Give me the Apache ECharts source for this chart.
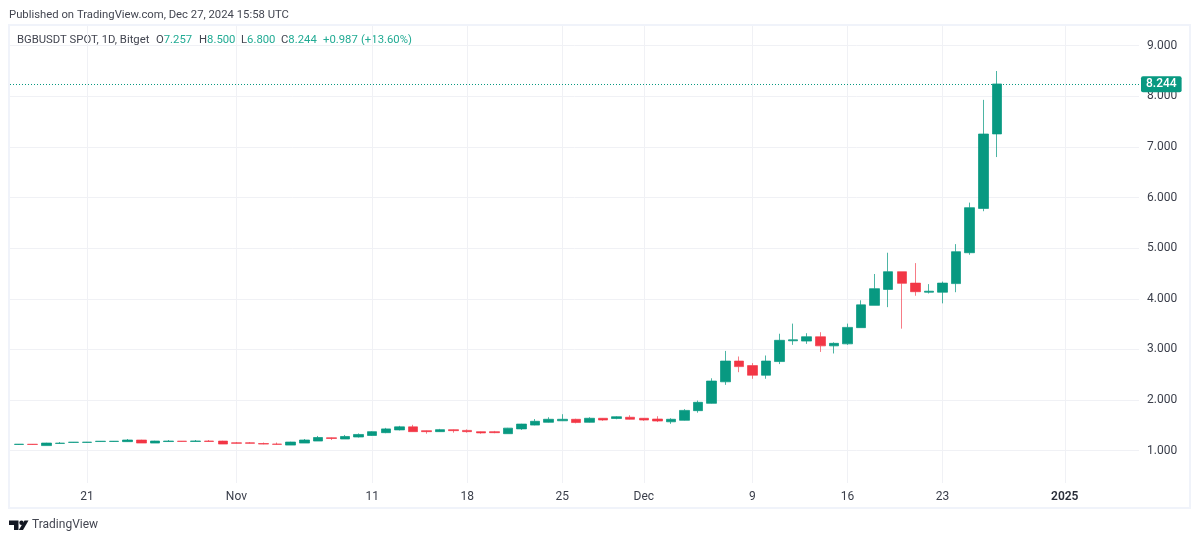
<!DOCTYPE html>
<html><head><meta charset="utf-8">
<style>html,body{margin:0;padding:0;background:#fff}#c{width:1200px;height:542px}</style>
<script src="https://cdn.jsdelivr.net/npm/echarts@6/dist/echarts.min.js"></script>
</head><body><div id="c"></div>
<script>
const dates=["2024-10-16","2024-10-17","2024-10-18","2024-10-19","2024-10-20","2024-10-21","2024-10-22","2024-10-23","2024-10-24","2024-10-25","2024-10-26","2024-10-27","2024-10-28","2024-10-29","2024-10-30","2024-10-31","2024-11-01","2024-11-02","2024-11-03","2024-11-04","2024-11-05","2024-11-06","2024-11-07","2024-11-08","2024-11-09","2024-11-10","2024-11-11","2024-11-12","2024-11-13","2024-11-14","2024-11-15","2024-11-16","2024-11-17","2024-11-18","2024-11-19","2024-11-20","2024-11-21","2024-11-22","2024-11-23","2024-11-24","2024-11-25","2024-11-26","2024-11-27","2024-11-28","2024-11-29","2024-11-30","2024-12-01","2024-12-02","2024-12-03","2024-12-04","2024-12-05","2024-12-06","2024-12-07","2024-12-08","2024-12-09","2024-12-10","2024-12-11","2024-12-12","2024-12-13","2024-12-14","2024-12-15","2024-12-16","2024-12-17","2024-12-18","2024-12-19","2024-12-20","2024-12-21","2024-12-22","2024-12-23","2024-12-24","2024-12-25","2024-12-26","2024-12-27"];
const opens=[1.122,1.127,1.10,1.143,1.163,1.163,1.18,1.181,1.178,1.21,1.15,1.18,1.188,1.183,1.19,1.19,1.155,1.155,1.14,1.13,1.11,1.15,1.19,1.255,1.23,1.27,1.30,1.355,1.41,1.47,1.395,1.375,1.415,1.40,1.375,1.375,1.335,1.43,1.505,1.56,1.59,1.62,1.56,1.64,1.635,1.66,1.64,1.625,1.57,1.60,1.79,1.935,2.36,2.77,2.68,2.49,2.76,3.17,3.165,3.25,3.07,3.11,3.43,3.87,4.185,4.535,4.31,4.13,4.13,4.30,4.91,5.785,7.257];
const closes=[1.128,1.122,1.15,1.148,1.167,1.168,1.187,1.187,1.21,1.15,1.19,1.19,1.182,1.19,1.183,1.13,1.145,1.145,1.13,1.125,1.17,1.21,1.26,1.24,1.28,1.32,1.375,1.43,1.47,1.375,1.375,1.415,1.395,1.375,1.35,1.355,1.445,1.525,1.58,1.62,1.62,1.555,1.64,1.605,1.67,1.62,1.605,1.585,1.62,1.795,1.955,2.375,2.77,2.66,2.49,2.77,3.18,3.19,3.25,3.07,3.12,3.435,3.88,4.20,4.535,4.305,4.14,4.15,4.31,4.93,5.80,7.255,8.244];
const lows=[1.118,1.118,1.10,1.14,1.16,1.16,1.178,1.178,1.175,1.15,1.15,1.178,1.18,1.18,1.18,1.13,1.14,1.14,1.125,1.12,1.11,1.15,1.19,1.21,1.23,1.26,1.29,1.345,1.40,1.375,1.335,1.37,1.355,1.355,1.335,1.345,1.335,1.41,1.50,1.555,1.585,1.54,1.555,1.59,1.62,1.615,1.59,1.565,1.53,1.595,1.75,1.93,2.30,2.55,2.42,2.42,2.71,3.09,3.11,2.95,2.92,3.09,3.43,3.87,3.835,3.41,4.06,4.105,3.91,4.13,4.87,5.73,6.80];
const highs=[1.13,1.13,1.155,1.17,1.17,1.172,1.19,1.19,1.23,1.215,1.195,1.21,1.19,1.21,1.21,1.195,1.17,1.17,1.16,1.16,1.175,1.23,1.29,1.26,1.31,1.34,1.385,1.45,1.49,1.51,1.40,1.43,1.42,1.42,1.38,1.39,1.45,1.53,1.625,1.66,1.72,1.63,1.66,1.645,1.68,1.70,1.645,1.68,1.64,1.82,1.99,2.43,2.97,2.86,2.73,2.88,3.31,3.51,3.32,3.34,3.14,3.51,3.97,4.49,4.91,4.535,4.705,4.29,4.34,5.08,5.90,7.93,8.50];
const tickDates=["2024-10-21","2024-11-01","2024-11-11","2024-11-18","2024-11-25","2024-12-01","2024-12-09","2024-12-16","2024-12-23","2025-01-01"];
const tickLabels=["21","Nov","11","18","25","Dec","9","16","23","2025"];
const priceTicks=[1,2,3,4,5,6,7,8,9];
const upColor="#089981",downColor="#F23645",upEdge="rgba(8,153,129,0.72)",downEdge="rgba(242,54,69,0.65)",gridColor="#f0f1f5",textColor="#3a3e4a",headerGreen="#22ab94";
const font="Roboto, sans-serif";
const DAY=86400000, t0=Date.parse(dates[0]+"T00:00:00Z");
const dayIndex=d=>Math.round((Date.parse(d+"T00:00:00Z")-t0)/DAY);
const tickDays=tickDates.map(dayIndex);
const last=dates.length-1;
const legend=[["O",opens[last].toFixed(3),156],["H",highs[last].toFixed(3),199],["L",lows[last].toFixed(3),241],["C",closes[last].toFixed(3),281]];
const change="+0.987", changePct="(+13.60%)";
const hf="11.3px "+font;
const chart=echarts.init(document.getElementById("c"),null,{renderer:"canvas"});
chart.setOption({
  animation:false,backgroundColor:"#fff",
  grid:{left:10,right:61,top:26,bottom:59,containLabel:false},
  xAxis:{type:"value",min:(10-19.1)/13.58,max:(1139-19.1)/13.58,
    axisLine:{show:false},
    axisTick:{show:false,customValues:tickDays},
    splitLine:{show:true,lineStyle:{color:gridColor,width:1}},
    axisLabel:{customValues:tickDays,margin:8,fontFamily:font,fontSize:12,color:textColor,hideOverlap:false,
      formatter:v=>{const s=tickLabels[tickDays.indexOf(+v)]??"";return s==="2025"?"{b|2025}":s;},
      rich:{b:{fontFamily:font,fontSize:12,fontWeight:600,color:"#2a2e39"}}}},
  yAxis:{type:"value",position:"right",min:0.361,max:9.389,
    axisLine:{show:false},
    axisTick:{show:false,customValues:priceTicks},
    splitLine:{show:true,lineStyle:{color:gridColor,width:1}},
    axisLabel:{customValues:priceTicks,margin:8,padding:[2,0,0,0],fontFamily:font,fontSize:12,color:textColor,formatter:v=>v.toFixed(3)}},
  series:[{type:"candlestick",barWidth:10,
    itemStyle:{color:upColor,color0:downColor,borderColor:upEdge,borderColor0:downEdge,borderWidth:1},
    encode:{x:0,y:[1,2,3,4]},
    data:dates.map((d,i)=>[i,opens[i],closes[i],lows[i],highs[i]]),
    markLine:{symbol:"none",silent:true,animation:false,
      lineStyle:{color:upColor,type:[1,2],width:1},
      label:{show:true,position:"end",distance:2,formatter:()=>closes[last].toFixed(3),color:"#fff",fontFamily:font,fontSize:12,fontWeight:500,
        backgroundColor:upColor,padding:[3,5,1,5],borderRadius:2},
      data:[{yAxis:closes[last]}]}}],
  graphic:[
    {type:"rect",silent:true,z:0,shape:{x:9,y:25,width:1181,height:483},style:{fill:"none",stroke:"#f0f3fa",lineWidth:2}},
    {type:"text",left:9,top:10,style:{text:"Published on TradingView.com, Dec 27, 2024 15:58 UTC",font:hf,fill:"#434651"}},
    {type:"text",left:17,top:35,style:{text:"BGBUSDT SPOT, 1D, Bitget",font:hf,fill:"#434651"}},
    ...legend.map(([k,v,x])=>({type:"text",left:x,top:35,style:{text:"{k|"+k+"}{v|"+v+"}",font:hf,rich:{k:{fill:"#434651",font:hf},v:{fill:headerGreen,font:hf}}}})),
    {type:"text",left:323,top:35,style:{text:change,font:hf,fill:headerGreen}},
    {type:"text",left:361,top:35,style:{text:changePct,font:hf,fill:headerGreen}},
    {type:"polygon",silent:true,shape:{points:[[9,520.5],[18.5,520.5],[18.5,530],[14,530],[14,525],[9,525]]},style:{fill:"#131722"}},
    {type:"circle",silent:true,shape:{cx:21.5,cy:522.7,r:2.2},style:{fill:"#131722"}},
    {type:"polygon",silent:true,shape:{points:[[24.5,520.5],[28.5,520.5],[23,530],[18.8,530]]},style:{fill:"#131722"}},
    {type:"text",left:32,top:519,style:{text:"TradingView",font:"12px "+font,fill:"#434651"}}
  ]
});
</script></body></html>
